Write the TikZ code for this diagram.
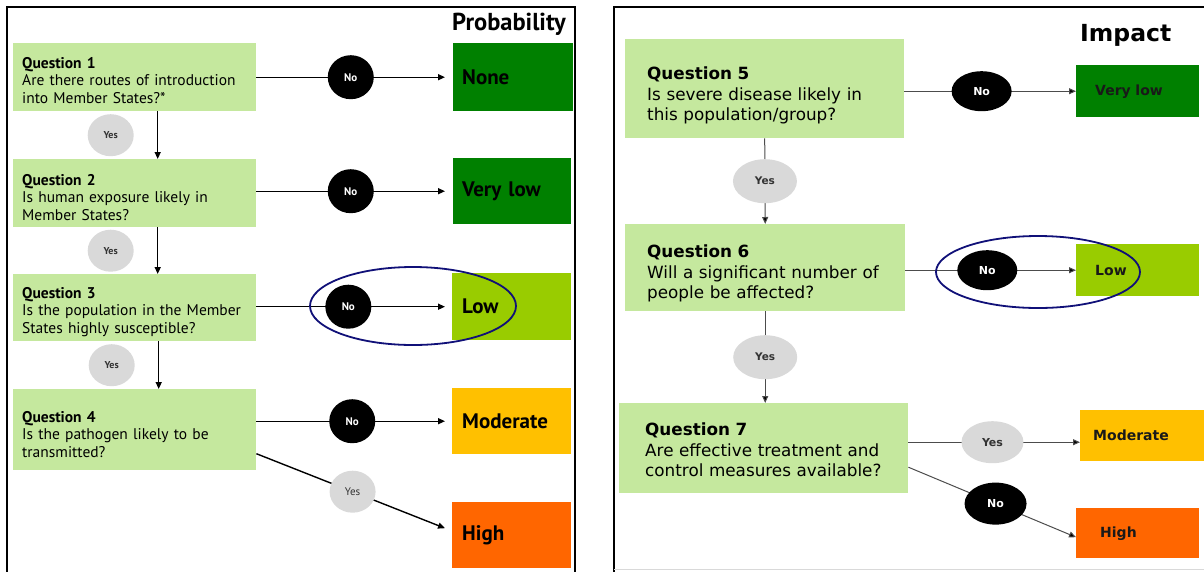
\documentclass[tikz,border=0pt]{standalone}
\usepackage{fontspec}
\setmainfont{PT Sans}
\newfontfamily\verdanafont{DejaVu Sans}
\usetikzlibrary{shapes.geometric, arrows.meta}

\definecolor{qgreen}{RGB}{197,232,158}
\definecolor{lvlnone}{RGB}{0,128,0}
\definecolor{lvllow}{RGB}{153,204,0}
\definecolor{lvlmod}{RGB}{255,192,0}
\definecolor{lvlhigh}{RGB}{255,102,0}
\definecolor{yesgray}{RGB}{217,217,217}
\definecolor{ringblue}{RGB}{16,16,120}

\tikzset{
  qbox/.style={fill=qgreen, anchor=north west, align=left, inner ysep=0pt},
  lvl/.style={anchor=north west, align=left, inner ysep=0pt},
  paneltitle/.style={anchor=base west, inner sep=0pt},
  noball/.style={ellipse, fill=black, text=white, inner sep=0pt},
  yesball/.style={ellipse, fill=yesgray, text=black!80, inner sep=0pt},
  ring/.style={ellipse, draw=ringblue, line width=1.8pt, inner sep=0pt},
  flow/.style={draw, line width=1.4pt, -{Triangle[length=7pt,width=6pt]}},
  flowR/.style={draw=black!70, line width=1pt, -{Triangle[length=7pt,width=6pt,fill=black]}},
  fontL/.style={font=\fontsize{15.5}{17.5}\selectfont},
  fontR/.style={font=\verdanafont\fontsize{16.8}{20.5}\selectfont},
}

\begin{document}
\begin{tikzpicture}[x=1pt, y=-1pt]
\useasboundingbox (0,0) rectangle (1204,571);

% frames
\draw[line width=1.6pt] (7,580) -- (7,7) -- (575,7) -- (575,580);
\draw[line width=1.2pt] (614,580) -- (614,7) -- (1210,7);
\draw[black!15, line width=0.8pt] (614,569) -- (1210,569);

% probability
\node[paneltitle, font=\bfseries\fontsize{24.5}{26}\selectfont] (probtitle) at (452,30) {Probability};

\node[qbox, fontL, inner xsep=9pt, minimum width=243pt, minimum height=68pt, text width=225pt] (q1) at (13,43)
  {\textbf{Question 1}\rule{0pt}{17pt}\\Are there routes of introduction\\into Member States?*};
\node[qbox, fontL, inner xsep=9pt, minimum width=243pt, minimum height=68pt, text width=225pt] (q2) at (13,159)
  {\textbf{Question 2}\rule{0pt}{19pt}\\Is human exposure likely in\\Member States?};
\node[qbox, fontL, inner xsep=9pt, minimum width=243pt, minimum height=67pt, text width=225pt] (q3) at (13,274)
  {\textbf{Question 3}\rule{0pt}{19pt}\\Is the population in the Member\\States highly susceptible?};
\node[qbox, fontL, inner xsep=9pt, minimum width=243pt, minimum height=81pt, text width=225pt] (q4) at (13,389)
  {\textbf{Question 4}\rule{0pt}{20pt}\\Is the pathogen likely to be\\transmitted?};

\node[lvl, fill=lvlnone, inner xsep=9pt, minimum width=120pt, minimum height=68pt, text width=102pt, font=\bfseries\fontsize{21}{23}\selectfont] (none) at (453,43) {None};
\node[lvl, fill=lvlnone, inner xsep=9pt, minimum width=118pt, minimum height=66pt, text width=100pt, font=\bfseries\fontsize{21}{23}\selectfont] (vlow) at (453,158) {Very low};
\node[lvl, fill=lvllow, inner xsep=10pt, minimum width=119pt, minimum height=67pt, text width=99pt, font=\bfseries\fontsize{21}{23}\selectfont] (low) at (452,273) {Low};
\node[lvl, fill=lvlmod, inner xsep=10pt, minimum width=119pt, minimum height=66pt, text width=99pt, font=\bfseries\fontsize{21}{23}\selectfont] (mod) at (452,388) {Moderate};
\node[lvl, fill=lvlhigh, inner xsep=10pt, minimum width=119pt, minimum height=66pt, text width=99pt, font=\bfseries\fontsize{21}{23}\selectfont] (high) at (452,502) {High};

\draw[flow, shorten >=8pt] (q1.east |- none.west) -- node[noball, pos=0.48, minimum width=46pt, minimum height=44pt, font=\bfseries\fontsize{11}{12}\selectfont] {No} (none.west);
\draw[flow, shorten >=8pt] (q2.east |- vlow.west) -- node[noball, pos=0.48, minimum width=46pt, minimum height=44pt, font=\bfseries\fontsize{11}{12}\selectfont] {No} (vlow.west);
\draw[flow, shorten >=7pt] (q3.east |- low.west) -- node[noball, pos=0.47, minimum width=46pt, minimum height=44pt, font=\bfseries\fontsize{11}{12}\selectfont] {No} (low.west);
\draw[flow, shorten >=7pt] (q4.east |- mod.west) -- node[noball, pos=0.49, minimum width=46pt, minimum height=44pt, font=\bfseries\fontsize{11}{12}\selectfont] {No} (mod.west);

\draw[flow] ([xshift=23pt]q1.south) -- node[yesball, xshift=-47pt, minimum width=46pt, minimum height=42pt, font=\bfseries\fontsize{10}{11}\selectfont] {Yes} ([xshift=23pt]q2.north);
\draw[flow] ([xshift=23pt]q2.south) -- node[yesball, xshift=-47pt, minimum width=46pt, minimum height=42pt, font=\bfseries\fontsize{10}{11}\selectfont] {Yes} ([xshift=23pt]q3.north);
\draw[flow] ([xshift=24pt]q3.south) -- node[yesball, xshift=-47pt, minimum width=46pt, minimum height=42pt, font=\bfseries\fontsize{10}{11}\selectfont] {Yes} ([xshift=24pt]q4.north);
\draw[flow] ([yshift=-24pt]q4.east) -- node[yesball, pos=0.51, minimum width=46pt, minimum height=42pt, font=\fontsize{11}{12}\selectfont] {Yes} ([xshift=-7pt, yshift=7pt]high.west);

% impact
\node[paneltitle, font=\verdanafont\bfseries\fontsize{23.5}{25}\selectfont] (imptitle) at (1080,41) {Impact};

\node[qbox, fontR, inner xsep=22pt, minimum width=279pt, minimum height=99pt, text width=235pt] (q5) at (625,39)
  {\textbf{Question 5}\rule{0pt}{27pt}\\Is severe disease likely in\\this population/group?};
\node[qbox, fontR, inner xsep=22pt, minimum width=280pt, minimum height=87pt, text width=236pt] (q6) at (625,224)
  {\textbf{Question 6}\rule{0pt}{25pt}\\Will a significant number of\\people be affected?};
\node[qbox, fontR, inner xsep=26pt, minimum width=289pt, minimum height=90pt, text width=237pt] (q7) at (619,403)
  {\textbf{Question 7}\rule{0pt}{16pt}\\Are effective treatment and\\control measures available?};

\node[lvl, fill=lvlnone, inner xsep=19pt, minimum width=123pt, minimum height=52pt, text width=85pt, text=black!90, font=\verdanafont\bfseries\fontsize{14}{16}\selectfont] (vlowR) at (1076,65) {Very low};
\node[lvl, fill=lvllow, inner xsep=19pt, minimum width=123pt, minimum height=52pt, text width=85pt, text=black!90, font=\verdanafont\bfseries\fontsize{14}{16}\selectfont] (lowR) at (1076,244) {Low};
\node[lvl, fill=lvlmod, inner xsep=13pt, minimum width=124pt, minimum height=51pt, text width=98pt, text=black!90, font=\verdanafont\bfseries\fontsize{14}{16}\selectfont] (modR) at (1080,410) {Moderate};
\node[lvl, fill=lvlhigh, inner xsep=24pt, minimum width=123pt, minimum height=50pt, text width=75pt, text=black!90, font=\verdanafont\bfseries\fontsize{14}{16}\selectfont] (highR) at (1076,508) {High};

\coordinate (q7yes) at ([yshift=6pt]q7.east);
\coordinate (q7no) at ([yshift=-19pt]q7.east);

\draw[flowR] (q5.east |- vlowR.west) -- node[noball, pos=0.45, minimum width=60pt, minimum height=40pt, font=\verdanafont\bfseries\fontsize{11}{12}\selectfont] {No} (vlowR.west);
\draw[flowR] (q6.east |- lowR.west) -- node[noball, pos=0.48, minimum width=60pt, minimum height=40pt, font=\verdanafont\bfseries\fontsize{11}{12}\selectfont] {No} (lowR.west);
\draw[flowR] (q5.south) -- node[yesball, minimum width=64pt, minimum height=44pt, font=\verdanafont\bfseries\fontsize{10.5}{12}\selectfont] {Yes} (q6.north);
\draw[flowR] (q6.south) -- node[yesball, minimum width=64pt, minimum height=44pt, font=\verdanafont\bfseries\fontsize{10.5}{12}\selectfont] {Yes} (q6.south |- q7.north);
\draw[flowR] (q7yes) -- node[yesball, pos=0.49, minimum width=62pt, minimum height=42pt, font=\verdanafont\bfseries\fontsize{11}{12}\selectfont] {Yes} (q7yes -| modR.west);
\draw[flowR] (q7no) -- node[noball, pos=0.52, minimum width=62pt, minimum height=42pt, font=\verdanafont\bfseries\fontsize{11}{12}\selectfont] {No} ([yshift=-4pt]highR.west);

% highlight rings
\node[ring, minimum width=206pt, minimum height=78pt] (ringprob) at (413,306) {};
\node[ring, minimum width=204pt, minimum height=72pt] (ringimp) at (1038,272) {};
\end{tikzpicture}
\end{document}
